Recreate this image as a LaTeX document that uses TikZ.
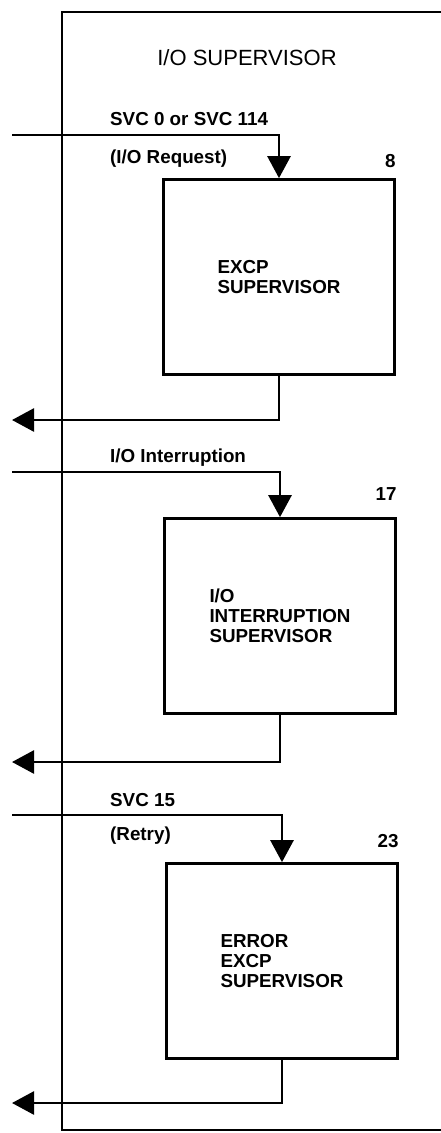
\documentclass[tikz,border=0pt]{standalone}
\usepackage{fontspec}
\setmainfont{Liberation Sans}
\usetikzlibrary{arrows.meta}

\tikzset{
  supbox/.style={draw,line width=2.7pt,minimum width=231pt,minimum height=195pt,
    align=left,font=\fontsize{18.8}{20}\selectfont\bfseries},
  lbl/.style={anchor=base west,inner sep=0pt,font=\fontsize{18.8}{20}\selectfont\bfseries},
  num/.style={anchor=south east,inner sep=0pt,font=\fontsize{18.8}{20}\selectfont\bfseries},
  flow/.style={line width=2.7pt,-{Triangle[length=22pt,width=23pt]}}
}

\begin{document}
\begin{tikzpicture}[x=1pt,y=-1pt]
\useasboundingbox (0,0) rectangle (441,1133);
% frame of the supervisor
\draw[line width=2.7pt] (441,12) -- (62,12) -- (62,1130) -- (441,1130);
\node[inner sep=0pt,anchor=base,font=\fontsize{22}{24}\selectfont] (title) at (247,65) {I/O SUPERVISOR};

% the three routines
\node[supbox] (excp) at (279,277) {EXCP\\SUPERVISOR};
\node[supbox] (intsup) at (280,616) {I/O\\INTERRUPTION\\SUPERVISOR};
\node[supbox] (errsup) at (282,961) {ERROR\\EXCP\\SUPERVISOR};

\node[num] (n8) at ([yshift=10pt]excp.north east) {8};
\node[num] (n17) at ([yshift=16pt]intsup.north east) {17};
\node[num] (n23) at ([yshift=14pt]errsup.north east) {23};

% entry and exit points
\coordinate (in1) at (12,135);
\coordinate (out1) at (12,420);
\coordinate (in2) at (12,472);
\coordinate (out2) at (12,762);
\coordinate (in3) at (12,815);
\coordinate (out3) at (12,1103);

\draw[flow] (in1) -| (excp.north);
\draw[flow] (excp.south) |- (out1);
\draw[flow] (in2) -| (intsup.north);
\draw[flow] (intsup.south) |- (out2);
\draw[flow] (in3) -| (errsup.north);
\draw[flow] (errsup.south) |- (out3);

\node[lbl] (svc0) at (110,125) {SVC 0 or SVC 114};
\node[lbl] (ioreq) at (110,163) {(I/O Request)};
\node[lbl] (ioint) at (110,462) {I/O Interruption};
\node[lbl] (svc15) at (110,806) {SVC 15};
\node[lbl] (retry) at (110,840) {(Retry)};
\end{tikzpicture}
\end{document}
